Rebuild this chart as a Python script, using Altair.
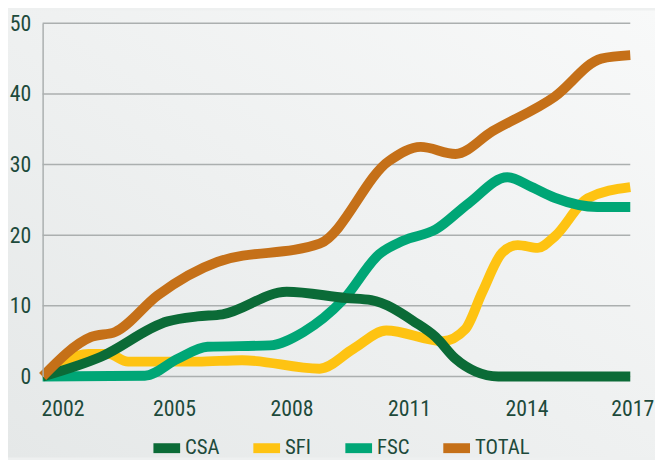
import altair as alt
import pandas as pd

# ---- data (decimal years, values) ----
series_names = ["CSA", "SFI", "FSC", "TOTAL"]
series_colors = ["#0b6b37", "#fec312", "#00a676", "#c57018"]

csa_years = [2002.0, 2003.49, 2005.19, 2005.95, 2006.59, 2008.23, 2009.75,
             2010.39, 2011.53, 2012.03, 2012.54, 2013.05, 2013.63, 2017.0]
csa_values = [0, 2.8, 7.8, 8.5, 8.8, 12.0, 11.1, 10.8, 7.6, 5.6, 2.5, 0.7, 0, 0]

sfi_years = [2002.0, 2003.17, 2003.67, 2004.18, 2005.95, 2007.09, 2009.07, 2009.93,
             2010.77, 2012.21, 2012.79, 2013.22, 2013.73, 2014.13, 2014.64, 2015.07,
             2015.91, 2017.0]
sfi_values = [0, 3.2, 3.2, 2.1, 2.1, 2.3, 1.1, 3.9, 6.5, 5.0, 6.7, 11.9, 17.5, 18.6,
              18.2, 19.8, 25.2, 26.8]

fsc_years = [2002.0, 2004.61, 2005.45, 2006.21, 2007.80, 2008.66, 2009.68, 2010.59,
             2011.20, 2012.03, 2012.87, 2013.86, 2014.49, 2015.07, 2016.16, 2017.0]
fsc_values = [0, 0.1, 2.5, 4.2, 4.4, 6.3, 10.9, 17.3, 19.2, 20.8, 24.5, 28.2, 26.8,
              25.3, 24.0, 24.0]

total_years = [2002.0, 2003.24, 2003.85, 2004.94, 2006.46, 2009.07, 2010.84, 2011.65,
               2012.54, 2013.48, 2015.07, 2016.26, 2017.0]
total_values = [0, 5.6, 6.3, 11.5, 16.2, 18.8, 30.5, 32.5, 31.5, 34.7, 39.6, 45.0, 45.5]

x_ticks = [2002, 2005, 2008, 2011, 2014, 2017]
y_ticks = [0, 10, 20, 30, 40, 50]

rows = []
for name, yrs, vals in [("SFI", sfi_years, sfi_values),
                        ("FSC", fsc_years, fsc_values),
                        ("CSA", csa_years, csa_values),
                        ("TOTAL", total_years, total_values)]:
    for i, (yr, v) in enumerate(zip(yrs, vals)):
        rows.append({"series": name, "year": yr, "value": v, "order": i})
df = pd.DataFrame(rows)
grid_df = pd.DataFrame({"tick": y_ticks})

font = "Roboto Condensed, Liberation Sans Narrow, DejaVu Sans Condensed, Roboto, sans-serif"
label_color = "#1d4a3b"
grid_color = "#abafaf"

W, H = 594, 357
PAD = {"left": 35, "top": 13, "right": 25, "bottom": 82}

y_scale = alt.Scale(domain=[0, 50], nice=False)
x_scale = alt.Scale(domain=[2002, 2017], nice=False, zero=False)

y_axis = alt.Axis(values=y_ticks, title=None, grid=False, zindex=1,
                  domain=True, domainColor=grid_color,
                  domainWidth=1.5, ticks=False, labelFontSize=22,
                  labelColor=label_color, labelFont=font, labelPadding=12)

# soft gradient page background
bg = alt.Chart(pd.DataFrame({"k": [0]})).mark_rect(
    clip=False,
    color=alt.Gradient(
        gradient="linear",
        stops=[alt.GradientStop(color="#e5e8e8", offset=0),
               alt.GradientStop(color="#f8f9f9", offset=1)],
        x1=0, x2=1, y1=1, y2=0,
    ),
).encode(
    x=alt.value(-PAD["left"]), x2=alt.value(W + PAD["right"]),
    y=alt.value(-PAD["top"]), y2=alt.value(H + PAD["bottom"]),
)

grid = alt.Chart(grid_df).mark_rule(color=grid_color, strokeWidth=1.5).encode(
    y=alt.Y("tick:Q", scale=y_scale, axis=y_axis)
)

lines = alt.Chart(df).mark_line(
    strokeWidth=10, interpolate="monotone", strokeCap="butt", strokeJoin="round"
).encode(
    x=alt.X("year:Q", scale=x_scale,
            axis=alt.Axis(values=x_ticks, format="d", title=None, grid=False,
                          domain=False, ticks=False, labelFontSize=22, zindex=1,
                          labelColor=label_color, labelFont=font, labelPadding=22,
                          labelFlush=False,
                          labelOffset={"expr": "datum.value == 2002 ? 20 : (datum.value == 2017 ? 2 : 14)"})),
    y=alt.Y("value:Q", scale=y_scale, axis=y_axis),
    color=alt.Color("series:N",
                    scale=alt.Scale(domain=series_names, range=series_colors),
                    legend=alt.Legend(title=None, orient="none", direction="horizontal",
                                      legendX=107, legendY=411, zindex=1,
                                      gridAlign="none",
                                      symbolType="stroke", symbolStrokeWidth=10,
                                      symbolSize=729, labelFontSize=21,
                                      labelFont=font, labelColor=label_color,
                                      labelOffset=0, columnPadding=14)),
    order="order:Q",
)

chart = alt.layer(bg, grid, lines).properties(
    width=W, height=H,
    background="#eef0f0",
    autosize=alt.AutoSizeParams(type="none"),
    padding=PAD,
).configure_view(stroke=None)

chart.save("out.html", embed_options={"renderer": "svg", "actions": False})
